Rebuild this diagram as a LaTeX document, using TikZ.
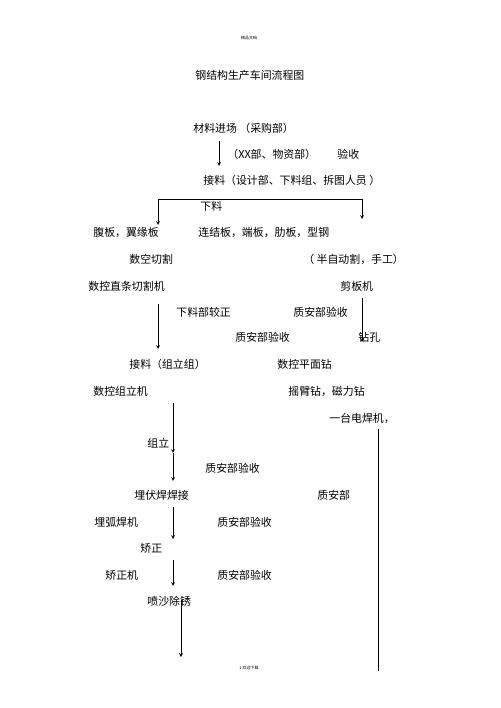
\documentclass[tikz,border=0pt]{standalone}
\usepackage{fontspec}
\newfontfamily\cjk{Noto Sans CJK SC}
\usepackage{tikz}

\begin{document}
\begin{tikzpicture}[->,>=stealth,x=1pt,y=-1pt,line width=0.7pt,
  every node/.style={anchor=west,inner sep=0pt,font=\cjk\fontsize{10.9}{13}\selectfont},
  smalltext/.style={anchor=center,font=\cjk\fontsize{4}{5}\selectfont}]
  \useasboundingbox (0,0) rectangle (500,708);

  \node (header) [smalltext] at (249,38) {精品文档};
  \node (title) at (195,75) {钢结构生产车间流程图};

  \node (jinchang)  at (193,128) {材料进场 （采购部）};
  \node (dept)      at (227,154) {（XX部、物资部）};
  \node (yanshou)   at (337,154) {验收};
  \node (jieliao)   at (203,180) {接料（设计部、下料组、拆图人员 ）};
  \node (xialiao)   at (200,206) {下料};
  \node (fuban)     at (93,232)  {腹板，翼缘板};
  \node (lianjie)   at (198,232) {连结板，端板，肋板，型钢};
  \node (shukong)   at (129,259) {数空切割};
  \node (banzidong) at (303,259) {（ 半自动割，手工）};
  \node (zhitiao)   at (88,286)  {数控直条切割机};
  \node (jianban)   at (340,286) {剪板机};
  \node (jiaozheng) at (176,312) {下料部较正};
  \node (zhian1)    at (293,312) {质安部验收};
  \node (zhian2)    at (235,337) {质安部验收};
  \node (zuankong)  at (358,337) {钻孔};
  \node (zuligroup) at (129,364) {接料（组立组）};
  \node (pingmian)  at (277,364) {数控平面钻};
  \node (zuliji)    at (93,391)  {数控组立机};
  \node (yaobi)     at (288,391) {摇臂钻，磁力钻};
  \node (dianhan)   at (329,418) {一台电焊机，};
  \node (zuli)      at (147,443) {组立};
  \node (zhian3)    at (205,468) {质安部验收};
  \node (maifu)     at (134,495) {埋伏焊焊接};
  \node (zhian)     at (317,495) {质安部};
  \node (maihu)     at (94,522)  {埋弧焊机};
  \node (zhian4)    at (217,522) {质安部验收};
  \node (jiao)      at (140,548) {矫正};
  \node (jiaoji)    at (105,575) {矫正机};
  \node (zhian5)    at (217,575) {质安部验收};
  \node (penmian)   at (147,601) {喷沙除锈};
  \node (footer) [smalltext] at (249,668) {1 欢迎下载};

  % arrow ends
  \coordinate (a1s) at (219,141);  \coordinate (a1e) at (219,166);
  \coordinate (bl)  at (158,225);  \coordinate (tl)  at (158,199.5);
  \coordinate (tr)  at (362,199.5);\coordinate (br)  at (362,219);
  \coordinate (l1s) at (158,304);  \coordinate (l1e) at (158,349);
  \coordinate (r1s) at (362,298);  \coordinate (r1e) at (362,342);
  \coordinate (c1s) at (173,403);  \coordinate (c1e) at (173,453);
  \coordinate (c2e) at (173,481);
  \coordinate (c3s) at (173,507);  \coordinate (c3e) at (173,539);
  \coordinate (c4s) at (173,560);  \coordinate (c4e) at (173,586);
  \coordinate (c5s) at (181,600);  \coordinate (c5e) at (181,657);
  \coordinate (rls) at (378,429);  \coordinate (rle) at (378,671);

  \path (a1s) edge (a1e);
  \draw[<->] (bl) -- (tl) -- (tr) -- (br);
  \path (l1s) edge (l1e)
        (r1s) edge (r1e);
  \path (c1s) edge (c1e)
        (c1e) edge (c2e)
        (c3s) edge (c3e)
        (c4s) edge (c4e)
        (c5s) edge (c5e);
  \draw[-] (rls) -- (rle);

\end{tikzpicture}
\end{document}
